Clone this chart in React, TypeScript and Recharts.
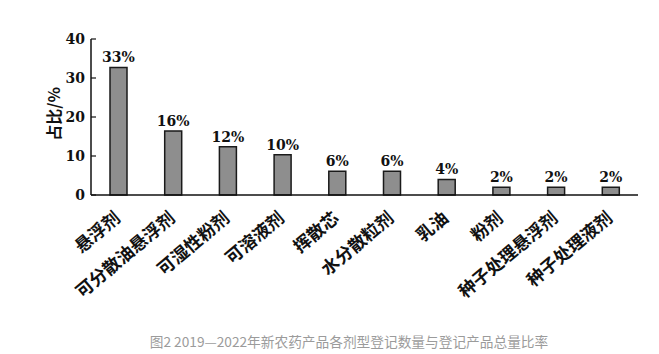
import React from 'react';
import { BarChart, Bar, XAxis, YAxis, LabelList } from 'recharts';

const categories = ['悬浮剂', '可分散油悬浮剂', '可湿性粉剂', '可溶液剂', '挥散芯', '水分散粒剂', '乳油', '粉剂', '种子处理悬浮剂', '种子处理液剂'];
const shares = [32.7, 16.4, 12.4, 10.3, 6.1, 6.1, 4.0, 2.0, 2.0, 2.0];
const shareLabels = ['33%', '16%', '12%', '10%', '6%', '6%', '4%', '2%', '2%', '2%'];
const yTicks = [0, 10, 20, 30, 40];
const boundaryTicks = [1, 2, 3, 4, 5, 6, 7, 8, 9, 10];
const yLabel = '占比/%';
const caption = '图2 2019—2022年新农药产品各剂型登记数量与登记产品总量比率';

const data = categories.map((name, i) => ({ name, value: shares[i], label: shareLabels[i] }));

const CatTick = (props: any) => {
  const { x, y, payload } = props;
  const ax = x + 3;
  const ay = y + 25;
  return (
    <text
      x={ax}
      y={ay}
      textAnchor="end"
      transform={`rotate(-40, ${ax}, ${ay})`}
      fontFamily="'Noto Sans CJK SC', sans-serif"
      fontWeight={700}
      fontSize={17.5}
      fill="#111"
    >
      {payload.value}
    </text>
  );
};

const YLabel = (props: any) => {
  const vb = props.viewBox || {};
  const cx = vb.x + 22;
  const cy = vb.y + vb.height / 2 - 3;
  return (
    <text
      x={cx}
      y={cy}
      textAnchor="middle"
      dominantBaseline="central"
      transform={`rotate(-90, ${cx}, ${cy})`}
      fontFamily="'Noto Sans CJK SC', sans-serif"
      fontWeight={700}
      fontSize={16}
      fill="#111"
    >
      {yLabel}
    </text>
  );
};

export default function App() {
  return (
    <div style={{ position: 'absolute', left: 0, top: 0, width: 659, height: 354, background: '#fff' }}>
      <BarChart
        width={659}
        height={354}
        data={data}
        margin={{ top: 39, right: 21, bottom: 157, left: 31 }}
        barSize={17}
      >
        <XAxis
          xAxisId="num"
          type="number"
          domain={[0, 10]}
          allowDataOverflow
          ticks={boundaryTicks}
          height={1}
          axisLine={false}
          tick={false}
          tickLine={{ stroke: '#111', strokeWidth: 1.2 }}
          tickSize={-5}
        />
        <XAxis
          xAxisId="cat"
          dataKey="name"
          type="category"
          height={1}
          axisLine={{ stroke: '#111', strokeWidth: 1.5 }}
          tickLine={false}
          tickSize={0}
          tickMargin={0}
          interval={0}
          tick={<CatTick />}
        />
        <YAxis
          type="number"
          domain={[0, 40]}
          ticks={yTicks}
          width={60}
          interval={0}
          axisLine={{ stroke: '#111', strokeWidth: 1.5 }}
          tickLine={{ stroke: '#111', strokeWidth: 1.2 }}
          tickSize={-5}
          tickMargin={11}
          tick={{ fontFamily: "'DejaVu Serif', serif", fontWeight: 700, fontSize: 14, fill: '#111' }}
          label={<YLabel />}
        />
        <Bar
          xAxisId="cat"
          dataKey="value"
          fill="#8e8e8e"
          stroke="#1a1a1a"
          strokeWidth={1.5}
          isAnimationActive={false}
        >
          <LabelList
            dataKey="label"
            position="top"
            offset={5}
            style={{ fontFamily: "'DejaVu Serif', serif", fontWeight: 700, fontSize: 14, fill: '#111' }}
          />
        </Bar>
      </BarChart>
      <div
        style={{
          position: 'absolute',
          left: 0,
          width: 698,
          top: 331,
          textAlign: 'center',
          fontFamily: "'Noto Sans CJK SC', sans-serif",
          fontSize: 13.7,
          color: '#9b9b9b',
          whiteSpace: 'nowrap',
        }}
      >
        {caption}
      </div>
    </div>
  );
}
